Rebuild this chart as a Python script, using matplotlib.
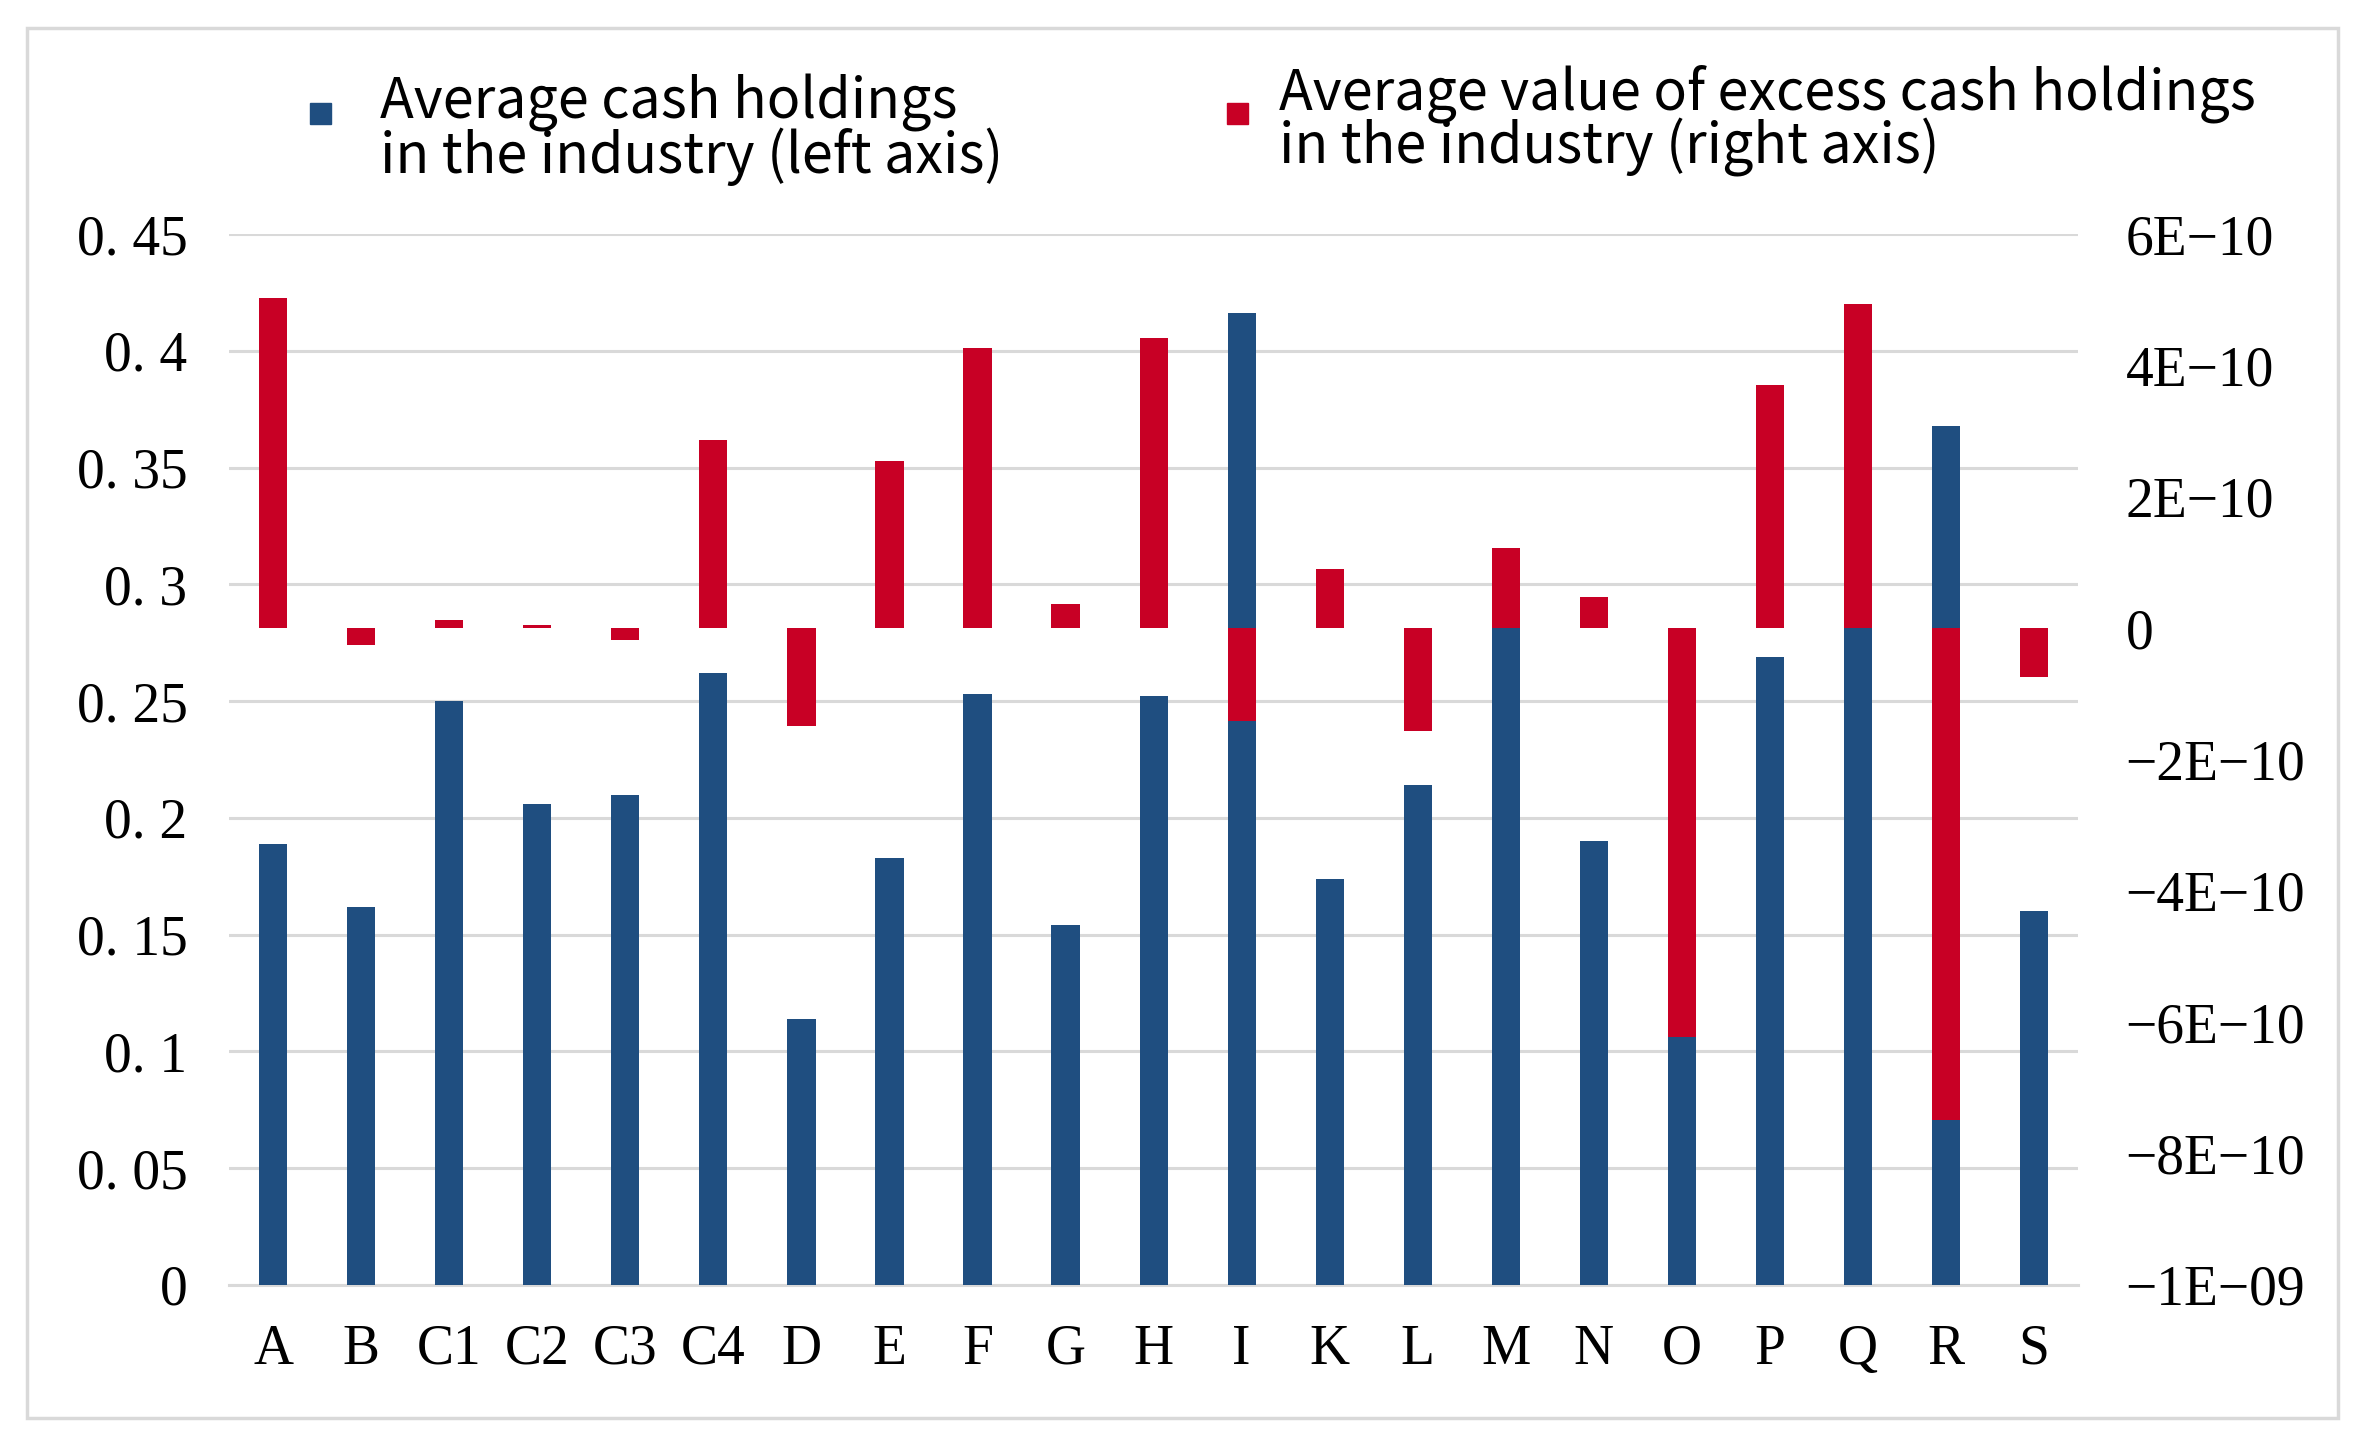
import numpy as np
import matplotlib.pyplot as plt
from matplotlib.patches import Rectangle

# industry codes
industries = ['A', 'B', 'C1', 'C2', 'C3', 'C4', 'D', 'E', 'F', 'G', 'H',
              'I', 'K', 'L', 'M', 'N', 'O', 'P', 'Q', 'R', 'S']

# average cash holdings (left axis)
cash = [0.189, 0.162, 0.250, 0.206, 0.210, 0.262, 0.114, 0.183, 0.253, 0.154, 0.252,
        0.416, 0.174, 0.214, 0.282, 0.190, 0.107, 0.269, 0.282, 0.368, 0.160]

# average excess cash holdings, in units of 1E-10 (right axis)
excess = [5.03, -0.25, 0.13, 0.05, -0.18, 2.87, -1.49, 2.55, 4.27, 0.37, 4.41,
          -1.42, 0.90, -1.56, 1.22, 0.48, -6.22, 3.70, 4.94, -7.49, -0.74]

left_ticks = [0, 0.05, 0.1, 0.15, 0.2, 0.25, 0.3, 0.35, 0.4, 0.45]
left_labels = ['0', '0. 05', '0. 1', '0. 15', '0. 2', '0. 25', '0. 3', '0. 35', '0. 4', '0. 45']
right_ticks = [-10, -8, -6, -4, -2, 0, 2, 4, 6]
right_labels = ['\u22121E\u221209', '\u22128E\u221210', '\u22126E\u221210', '\u22124E\u221210',
                '\u22122E\u221210', '0', '2E\u221210', '4E\u221210', '6E\u221210']

blue = '#1f4e80'
red = '#c80025'
grid_col = '#d9d9d9'
tick_font = dict(family='Liberation Serif', size=40)

fig = plt.figure(figsize=(23.64, 14.42), dpi=100)
ax = fig.add_axes([0.0969, 0.1089, 0.7822, 0.7288])
ax2 = ax.twinx()

x = np.arange(len(industries))
w = 0.32

ax.bar(x, cash, width=w, color=blue, zorder=3)
ax2.bar(x, np.array(excess) * 1e-10, width=w, color=red, zorder=3)

ax.set_xlim(-0.5, len(industries) - 0.5)
ax.set_ylim(0, 0.45)
ax2.set_ylim(-10e-10, 6e-10)

ax.set_yticks(left_ticks)
ax.set_yticklabels(left_labels, **tick_font)
ax.set_xticks(x)
ax.set_xticklabels(industries, **tick_font)
ax2.set_yticks(np.array(right_ticks) * 1e-10)
ax2.set_yticklabels(right_labels, **tick_font)

ax.yaxis.grid(True, color=grid_col, lw=2.2, zorder=0)
ax.set_axisbelow(True)
ax.tick_params(axis='both', length=0)
ax.tick_params(axis='y', pad=30)
ax.tick_params(axis='x', pad=28)
ax2.tick_params(axis='y', length=0, pad=34)
for a in (ax, ax2):
    for s in a.spines.values():
        s.set_visible(False)
ax.spines['bottom'].set_visible(True)
ax.spines['bottom'].set_color(grid_col)
ax.spines['bottom'].set_linewidth(2.2)

# outer frame
fig.patches.append(Rectangle((27 / 2364, 24 / 1442), 2311 / 2364, 1390 / 1442,
                             transform=fig.transFigure, fill=False,
                             edgecolor='#d9d9d9', lw=2.5))

# legend
leg_font = dict(family=['Noto Sans CJK SC', 'DejaVu Sans'], size=40, va='center',
                ha='left', linespacing=0.9)
fig.patches.append(Rectangle((310 / 2364, 1 - 124 / 1442), 21 / 2364, 21 / 1442,
                             transform=fig.transFigure, color=blue))
fig.text(380 / 2364, 1 - 130 / 1442, 'Average cash holdings\nin the industry (left axis)', **leg_font)
fig.patches.append(Rectangle((1227 / 2364, 1 - 124 / 1442), 21 / 2364, 21 / 1442,
                             transform=fig.transFigure, color=red))
fig.text(1279 / 2364, 1 - 121 / 1442, 'Average value of excess cash holdings\nin the industry (right axis)', **leg_font)

fig.savefig('out.png', dpi=100)
